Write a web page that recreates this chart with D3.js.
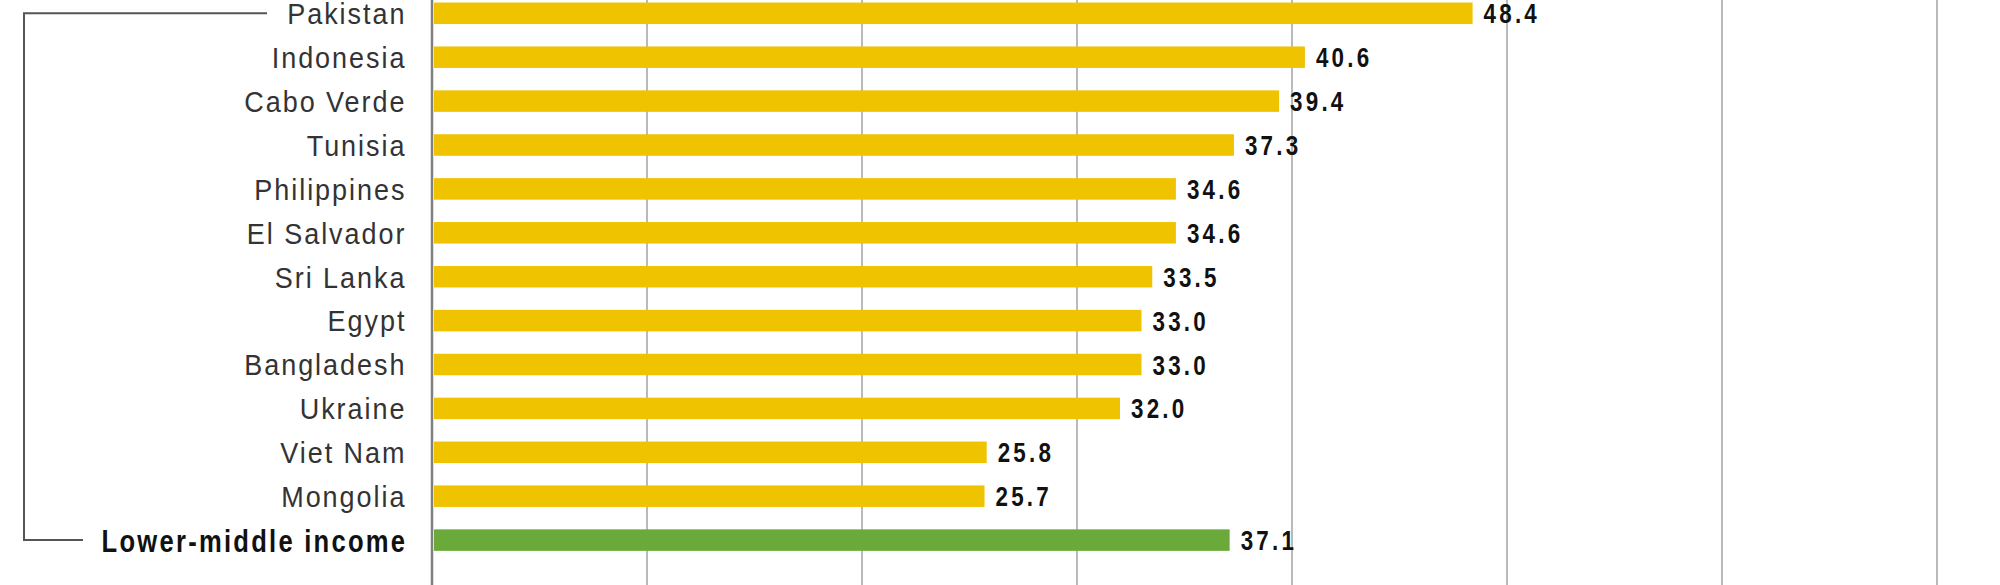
<!DOCTYPE html>
<html>
<head>
<meta charset="utf-8">
<script src="https://cdn.jsdelivr.net/npm/d3@7"></script>
<style>
  html, body { margin: 0; padding: 0; background: #fff; }
  svg { display: block; }
</style>
</head>
<body>
<svg id="chart" width="2000" height="585"></svg>
<script>
const categories = ["Pakistan","Indonesia","Cabo Verde","Tunisia","Philippines","El Salvador","Sri Lanka","Egypt","Bangladesh","Ukraine","Viet Nam","Mongolia","Lower-middle income"];
const values = [48.4, 40.6, 39.4, 37.3, 34.6, 34.6, 33.5, 33.0, 33.0, 32.0, 25.8, 25.7, 37.1];
const groupFlag = [0,0,0,0,0,0,0,0,0,0,0,0,1];
const gridTicks = [0,10,20,30,40,50,60,70];

const data = categories.map((c,i)=>({cat:c, val:values[i], group:groupFlag[i]}));

const W = 2000, H = 585;
const svg = d3.select("#chart");
const x = d3.scaleLinear().domain([0, 80]).range([432, 2152]);
const step = 43.9, firstCenter = 13.3;
const y = d3.scaleBand().domain(categories)
  .range([firstCenter - step/2, firstCenter - step/2 + step*categories.length])
  .paddingInner(0.51).paddingOuter(0.255);
const cy = d => y(d.cat) + y.bandwidth()/2;

// gridlines
svg.append("g").selectAll("line").data(gridTicks.filter(t=>t>0)).join("line")
  .attr("x1", d=>x(d)).attr("x2", d=>x(d)).attr("y1", 0).attr("y2", H)
  .attr("stroke", "#a3a3a3").attr("stroke-width", 1.5);

// bars
svg.append("g").selectAll("rect").data(data).join("rect")
  .attr("x", x(0)+2).attr("y", d=>y(d.cat))
  .attr("width", d=>x(d.val)-x(0)-2).attr("height", y.bandwidth())
  .attr("fill", d=>d.group ? "#6aaa3a" : "#f0c300");

// axis line
svg.append("line").attr("x1", x(0)).attr("x2", x(0)).attr("y1", 0).attr("y2", H)
  .attr("stroke", "#808080").attr("stroke-width", 2.5);

const SANS = "'Liberation Sans','Arimo','Helvetica',sans-serif";

// category labels (regular)
svg.append("g").selectAll("text").data(data.filter(d=>!d.group)).join("text")
  .attr("transform", d=>`translate(406.5,${cy(d)}) scale(0.9,1)`)
  .attr("dy", "0.36em").attr("text-anchor", "end")
  .attr("font-family", SANS)
  .attr("font-size", 30)
  .attr("letter-spacing", 2.2)
  .attr("fill", "#333")
  .text(d=>d.cat);

// group label (bold, condensed look)
svg.append("g").selectAll("text").data(data.filter(d=>d.group)).join("text")
  .attr("transform", d=>`translate(405,${cy(d)}) scale(0.8,1)`)
  .attr("x", 2.8).attr("dy", "0.36em").attr("text-anchor", "end")
  .attr("font-family", SANS).attr("font-weight", "bold")
  .attr("font-size", 32).attr("letter-spacing", 2.8)
  .attr("fill", "#111")
  .text(d=>d.cat);

// value labels
svg.append("g").selectAll("text").data(data).join("text")
  .attr("transform", d=>`translate(${x(d.val)+11},${cy(d)}) scale(0.8,1)`)
  .attr("dy", "0.36em")
  .attr("font-family", SANS)
  .attr("font-weight", "bold").attr("font-size", 28).attr("letter-spacing", 4)
  .attr("fill", "#111")
  .text(d=>d3.format(".1f")(d.val));

// bracket
const yTop = cy(data[0]);
const yBot = cy(data[data.length-1]);
svg.append("path")
  .attr("d", `M267,${yTop} H24 V${yBot} H83`)
  .attr("fill", "none").attr("stroke", "#555").attr("stroke-width", 2);
</script>
</body>
</html>
